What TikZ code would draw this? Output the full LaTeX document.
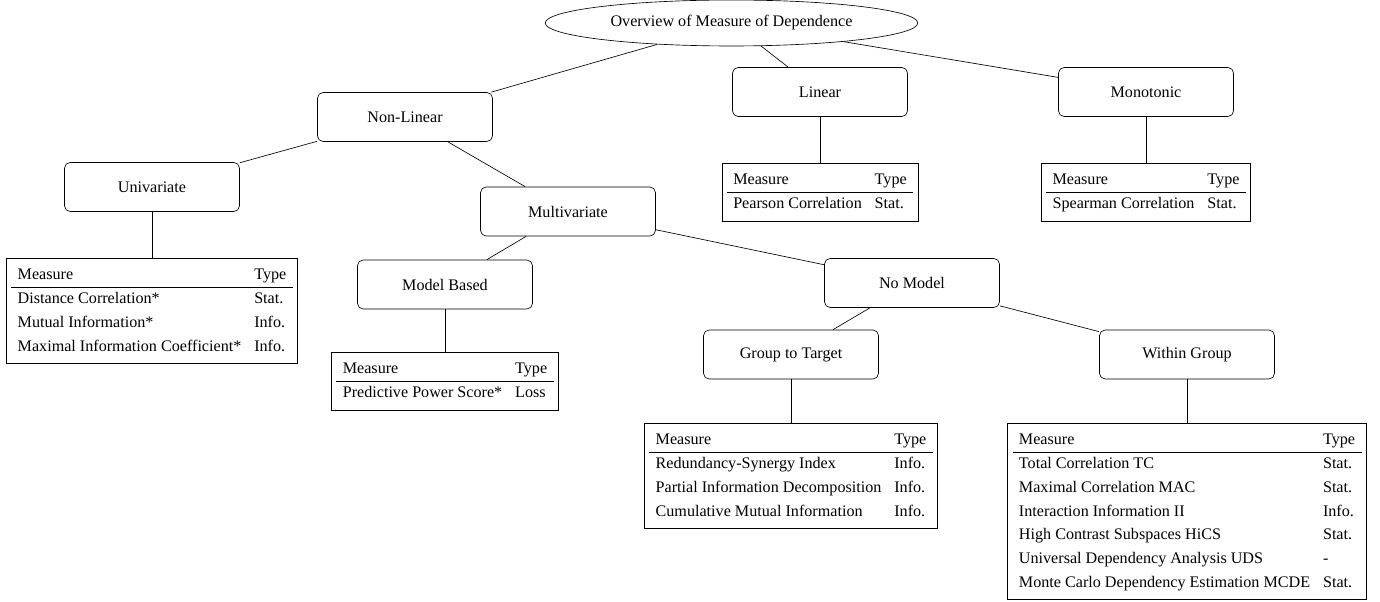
\documentclass[tikz,border=0pt]{standalone}
\usepackage{fontspec}
\setmainfont{Liberation Serif}
\usetikzlibrary{shapes.geometric}
\renewcommand{\arraystretch}{1.22}
\setlength{\tabcolsep}{4pt}
\begin{document}
\begin{tikzpicture}[x=0.62pt,y=-0.62pt,
  catbox/.style={draw, rounded corners=3.5pt, minimum width=108.5pt, minimum height=30.4pt, inner sep=0pt, font=\fontsize{10}{12}\selectfont},
  rootnode/.style={draw, ellipse, minimum width=231pt, minimum height=28.5pt, inner sep=0pt, font=\fontsize{10}{12}\selectfont},
  tbl/.style={draw, rectangle, inner sep=3pt, anchor=north, font=\fontsize{10}{12}\selectfont},
  conn/.style={draw}
]
\useasboundingbox (0,0) rectangle (1380,602);

\node[rootnode] (root) at (731.5,23) {Overview of Measure of Dependence};
\node[catbox] (nonlin) at (405,117) {Non-Linear};
\node[catbox] (lin) at (820,92) {Linear};
\node[catbox] (mono) at (1146,92) {Monotonic};
\node[catbox] (uni) at (152,187) {Univariate};
\node[catbox] (multi) at (568,211.5) {Multivariate};
\node[catbox] (model) at (445,284.5) {Model Based};
\node[catbox] (nomodel) at (912,283) {No Model};
\node[catbox] (g2t) at (791,354.5) {Group to Target};
\node[catbox] (within) at (1187,354.5) {Within Group};

\node[tbl] (tuni) at (152,258) {\begin{tabular}{ll}
Measure & Type\\\hline
Distance Correlation* & Stat.\\
Mutual Information* & Info.\\
Maximal Information Coefficient* & Info.
\end{tabular}};

\node[tbl] (tmodel) at (445,352) {\begin{tabular}{ll}
Measure & Type\\\hline
Predictive Power Score* & Loss
\end{tabular}};

\node[tbl] (tlin) at (820,163) {\begin{tabular}{ll}
Measure & Type\\\hline
Pearson Correlation & Stat.
\end{tabular}};

\node[tbl] (tmono) at (1146,163) {\begin{tabular}{ll}
Measure & Type\\\hline
Spearman Correlation & Stat.
\end{tabular}};

\node[tbl] (tg2t) at (791,423) {\begin{tabular}{ll}
Measure & Type\\\hline
Redundancy-Synergy Index & Info.\\
Partial Information Decomposition & Info.\\
Cumulative Mutual Information & Info.
\end{tabular}};

\node[tbl] (twithin) at (1187,423) {\begin{tabular}{ll}
Measure & Type\\\hline
Total Correlation TC & Stat.\\
Maximal Correlation MAC & Stat.\\
Interaction Information II & Info.\\
High Contrast Subspaces HiCS & Stat.\\
Universal Dependency Analysis UDS & -\\
Monte Carlo Dependency Estimation MCDE & Stat.
\end{tabular}};

\draw[conn] (root) -- (nonlin);
\draw[conn] (root) -- (lin);
\draw[conn] (root) -- (mono);
\draw[conn] (nonlin) -- (uni);
\draw[conn] (nonlin) -- (multi);
\draw[conn] (multi) -- (model);
\draw[conn] (multi) -- (nomodel);
\draw[conn] (nomodel) -- (g2t);
\draw[conn] (nomodel) -- (within);
\draw[conn] (uni) -- (tuni);
\draw[conn] (model) -- (tmodel);
\draw[conn] (lin) -- (tlin);
\draw[conn] (mono) -- (tmono);
\draw[conn] (g2t) -- (tg2t);
\draw[conn] (within) -- (twithin);
\end{tikzpicture}
\end{document}
